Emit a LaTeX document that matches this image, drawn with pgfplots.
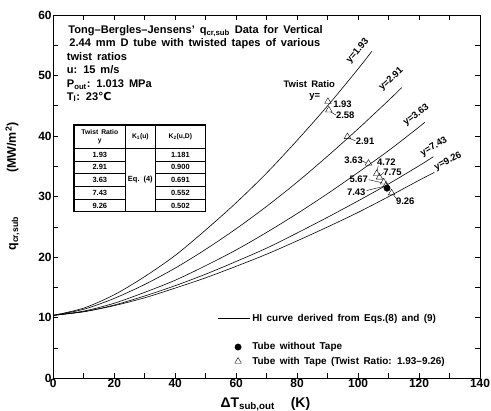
\documentclass[border=0pt]{standalone}
\usepackage{fontspec}
\setmainfont{Liberation Sans}[WordSpace=1.6]
\newfontfamily\dejavu{DejaVu Sans}
\usepackage{pgfplots}
\pgfplotsset{compat=1.18}

\tikzset{
  lbl/.style={font=\fontsize{9.5}{11}\selectfont\bfseries, inner sep=0pt},
  info/.style={anchor=base west, inner sep=0pt, font=\fontsize{11.1}{13}\selectfont\bfseries},
  tab/.style={inner sep=0pt, font=\fontsize{7.5}{8.5}\selectfont\bfseries},
  tabh/.style={inner sep=0pt, font=\fontsize{6.8}{7.6}\selectfont\bfseries},
}

\begin{document}
\begin{tikzpicture}
\path[use as bounding box] (-53.3bp,-32.7bp) rectangle (437.7bp,378.3bp);
\begin{axis}[
  scale only axis, width=426.7bp, height=363.3bp,
  at={(0,0)}, anchor=south west,
  xmin=0, xmax=140, ymin=0, ymax=60,
  xtick={0,20,...,140}, minor xtick={10,30,...,130},
  ytick={0,10,...,60}, minor ytick={5,15,...,55},
  tick align=inside, tick pos=both,
  major tick length=5bp, minor tick length=5bp,
  axis line style={line width=1pt},
  tick style={line width=0.8pt, black},
  ticklabel style={font=\fontsize{12}{14}\selectfont\bfseries},
  /pgf/number format/assume math mode=true,
  xticklabel style={inner sep=1pt},
  yticklabel style={inner sep=1.5pt},
  xlabel={ΔT\textsubscript{sub,out}\hspace{16bp}(K)},
  ylabel={q\textsubscript{cr,sub}\hspace{44bp}(MW/m\textsuperscript{2})},
  xlabel style={at={(axis description cs:0.497,0)}, anchor=base, yshift=-29.5bp,
    inner sep=0pt, font=\fontsize{14}{16}\selectfont\bfseries},
  ylabel style={at={(axis description cs:-0.0956,0.528)}, anchor=center,
    inner sep=0pt, font=\fontsize{12.5}{14}\selectfont\bfseries},
  legend cell align=left,
  legend style={at={(0.385,0.185)}, anchor=north west, draw=none, fill=none,
    font=\fontsize{10}{11}\selectfont\bfseries, row sep=0pt, inner sep=0pt,
    nodes={text height=8bp, text depth=2.5bp, inner sep=1.9bp}},
]
\addlegendimage{legend image code/.code={\draw[black, line width=0.6pt] (0bp,0bp) -- (32bp,0bp);}}
\addlegendentry{HI curve derived from Eqs.(8) and (9)}
\addlegendimage{empty legend}
\addlegendentry{}
\addlegendimage{legend image code/.code={\path[draw=none] (0bp,0bp) -- (32bp,0bp); \path[draw=black, fill=black] plot[only marks, mark=*, mark size=3.2pt] coordinates {(20bp,0bp)};}}
\addlegendentry{Tube without Tape}
\addlegendimage{legend image code/.code={\path[draw=none] (0bp,0bp) -- (32bp,0bp); \path[draw=black] plot[only marks, mark=triangle, mark size=3.8pt] coordinates {(20bp,0bp)};}}
\addlegendentry{Tube with Tape (Twist Ratio: 1.93–9.26)}

% HI curves for the five twist ratios
\addplot[black, line width=0.6pt, smooth, forget plot] coordinates {
  (0,10.4) (10,11.6) (20,13.8) (30,16.8) (40,20.3) (50,24.5) (60,29.0)
  (70,33.9) (80,39.3) (90,45.0) (100,51.1) (104.5,54.0)};
\addplot[black, line width=0.6pt, smooth, forget plot] coordinates {
  (0,10.4) (10,11.4) (20,13.2) (30,15.5) (40,18.2) (50,21.3) (60,24.7)
  (70,28.4) (80,32.4) (90,36.7) (100,41.2) (110,45.9) (114.3,48.0)};
\addplot[black, line width=0.6pt, smooth, forget plot] coordinates {
  (0,10.4) (10,11.1) (20,12.4) (30,14.2) (40,16.2) (50,18.6) (60,21.2)
  (70,24.1) (80,27.2) (90,30.5) (100,34.0) (110,37.6) (120,41.5) (121.9,42.3)};
\addplot[black, line width=0.6pt, smooth, forget plot] coordinates {
  (0,10.4) (10,11.0) (20,12.1) (30,13.6) (40,15.3) (50,17.2) (60,19.3)
  (70,21.5) (80,24.0) (90,26.6) (100,29.3) (110,32.1) (120,35.1) (124.7,36.6)};
\addplot[black, line width=0.6pt, smooth, forget plot] coordinates {
  (0,10.4) (10,11.0) (20,12.0) (30,13.3) (40,14.9) (50,16.6) (60,18.5)
  (70,20.5) (80,22.7) (90,25.0) (100,27.4) (110,30.0) (120,32.7) (125,34.0)};

% data points
\addplot[black, only marks, mark=triangle, mark size=3.8pt, forget plot] coordinates {
  (90.1,45.7) (90.4,44.3) (96.5,39.9) (103.4,35.5) (106.1,33.8) (107.0,33.2) (108.4,32.4) (109.2,31.9) (111.0,30.6)};
\addplot[black, only marks, mark=*, mark size=3.2pt, forget plot] coordinates {(109.5,31.4)};

% leader lines
\draw[black, line width=0.4pt] (axis cs:91.0,44.0) -- (axis cs:92.7,43.5);
\draw[black, line width=0.4pt] (axis cs:97.3,39.6) -- (axis cs:99.2,39.2);
\draw[black, line width=0.4pt] (axis cs:101.5,35.9) -- (axis cs:102.5,35.6);
\draw[black, line width=0.4pt] (axis cs:106.3,34.3) -- (axis cs:106.6,35.1);
\draw[black, line width=0.4pt] (axis cs:107.4,33.5) -- (axis cs:108.4,34.0);
\draw[black, line width=0.4pt] (axis cs:103.5,32.8) -- (axis cs:107.8,32.3);
\draw[black, line width=0.4pt] (axis cs:102.8,31.0) -- (axis cs:108.4,31.7);
\draw[black, line width=0.4pt] (axis cs:111.7,30.2) -- (axis cs:112.7,29.6);

% point labels
\node[lbl, anchor=base] at (axis cs:84.0,47.99) {Twist Ratio};
\node[lbl, anchor=base] at (axis cs:85.8,46.2) {y=};
\node[lbl, anchor=west] at (axis cs:91.8,45.2) {1.93};
\node[lbl, anchor=west] at (axis cs:92.7,43.5) {2.58};
\node[lbl, anchor=west] at (axis cs:99.2,39.2) {2.91};
\node[lbl, anchor=east] at (axis cs:101.6,36.0) {3.63};
\node[lbl, anchor=west] at (axis cs:106.2,35.7) {4.72};
\node[lbl, anchor=west] at (axis cs:108.2,34.0) {7.75};
\node[lbl, anchor=east] at (axis cs:103.3,32.9) {5.67};
\node[lbl, anchor=east] at (axis cs:102.5,30.8) {7.43};
\node[lbl, anchor=west] at (axis cs:112.4,29.3) {9.26};

% curve labels
\node[lbl, rotate=50] at (axis cs:99.9,54.1) {y=1.93};
\node[lbl, rotate=43] at (axis cs:110.9,49.4) {y=2.91};
\node[lbl, rotate=36] at (axis cs:119.1,43.4) {y=3.63};
\node[lbl, rotate=31] at (axis cs:124.9,38.2) {y=7.43};
\node[lbl, rotate=27] at (axis cs:129.5,35.8) {y=9.26};

% conditions
\node[info] at (axis cs:4.92,56.98) {Tong–Bergles–Jensens' q\textsubscript{cr,sub} Data for Vertical};
\node[info] at (axis cs:5.25,54.76) {2.44 mm D tube with twisted tapes of various};
\node[info] at (axis cs:4.40,52.45) {twist ratios};
\node[info] at (axis cs:4.40,50.37) {u: 15 m/s};
\node[info] at (axis cs:4.40,47.99) {P\textsubscript{out}: 1.013 MPa};
\node[info] at (axis cs:4.40,45.96) {T\textsubscript{l}: 23{\dejavu ℃}};

% table
\draw[black, line width=0.5pt] (axis cs:23.75,41.83) -- (axis cs:23.75,27.50);
\draw[black, line width=0.5pt] (axis cs:33.37,41.83) -- (axis cs:33.37,27.50);
\draw[black, line width=0.5pt] (axis cs:6.79,37.99) -- (axis cs:50.0,37.99);
\draw[black, line width=0.5pt] (axis cs:6.79,35.89) -- (axis cs:23.75,35.89);
\draw[black, line width=0.5pt] (axis cs:6.79,33.79) -- (axis cs:23.75,33.79);
\draw[black, line width=0.5pt] (axis cs:6.79,31.69) -- (axis cs:23.75,31.69);
\draw[black, line width=0.5pt] (axis cs:6.79,29.60) -- (axis cs:23.75,29.60);
\draw[black, line width=0.7pt] (axis cs:33.37,35.89) -- (axis cs:50.0,35.89);
\draw[black, line width=0.7pt] (axis cs:33.37,33.79) -- (axis cs:50.0,33.79);
\draw[black, line width=0.7pt] (axis cs:33.37,31.69) -- (axis cs:50.0,31.69);
\draw[black, line width=0.7pt] (axis cs:33.37,29.60) -- (axis cs:50.0,29.60);
\draw[black, line width=1.2pt] (axis cs:6.79,41.83) rectangle (axis cs:50.0,27.50);
\node[tabh, align=center] at (axis cs:15.27,39.91) {Twist Ratio\\y};
\node[tabh] at (axis cs:28.56,39.91) {K\textsubscript{1}(u)};
\node[tabh] at (axis cs:41.69,39.91) {K\textsubscript{2}(u,D)};
\node[tab] at (axis cs:15.27,36.94) {1.93};
\node[tab] at (axis cs:15.27,34.84) {2.91};
\node[tab] at (axis cs:15.27,32.74) {3.63};
\node[tab] at (axis cs:15.27,30.64) {7.43};
\node[tab] at (axis cs:15.27,28.55) {9.26};
\node[tab] at (axis cs:28.56,32.74) {Eq. (4)};
\node[tab] at (axis cs:41.69,36.94) {1.181};
\node[tab] at (axis cs:41.69,34.84) {0.900};
\node[tab] at (axis cs:41.69,32.74) {0.691};
\node[tab] at (axis cs:41.69,30.64) {0.552};
\node[tab] at (axis cs:41.69,28.55) {0.502};
\end{axis}
\end{tikzpicture}
\end{document}
